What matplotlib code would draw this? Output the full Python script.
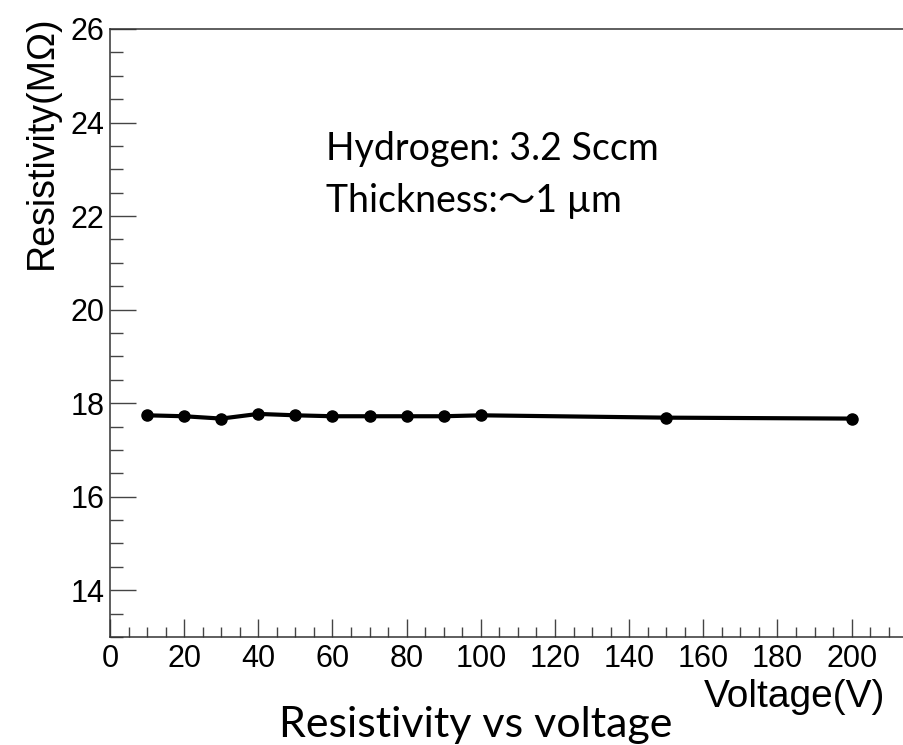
import matplotlib
matplotlib.use("Agg")
import matplotlib.pyplot as plt
from matplotlib.ticker import MultipleLocator

# data
voltage = [10, 20, 30, 40, 50, 60, 70, 80, 90, 100, 150, 200]
resistivity = [17.74, 17.72, 17.67, 17.77, 17.74, 17.72, 17.72, 17.72, 17.72, 17.74, 17.69, 17.67]

x_major = 20
x_minor = 5
y_major = 2
y_minor = 0.5

W, H = 904, 745
DPI = 100

plt.rcParams["font.family"] = ["Liberation Sans", "DejaVu Sans"]

fig = plt.figure(figsize=(W / DPI, H / DPI), dpi=DPI)

# axes box in pixels: left spine 110, bottom 637, top 29, right runs past the edge
left, right, top, bottom = 110, 911, 29, 637
ax = fig.add_axes([left / W, 1 - bottom / H, (right - left) / W, (bottom - top) / H])

ax.plot(voltage, resistivity, color="black", lw=3, marker="o", ms=8,
        markerfacecolor="black", markeredgecolor="black", solid_joinstyle="miter")

ax.set_xlim(0, 216)
ax.set_ylim(13, 26)

ax.xaxis.set_major_locator(MultipleLocator(x_major))
ax.xaxis.set_minor_locator(MultipleLocator(x_minor))
ax.yaxis.set_major_locator(MultipleLocator(y_major))
ax.yaxis.set_minor_locator(MultipleLocator(y_minor))

for s in ax.spines.values():
    s.set_linewidth(1.1)
    s.set_color("#333333")

ax.tick_params(axis="x", which="major", direction="in", length=13, width=1.0,
               color="#444444", labelsize=22, pad=5)
ax.tick_params(axis="x", which="minor", direction="in", length=7, width=1.0,
               color="#444444")
ax.tick_params(axis="y", which="major", direction="in", length=18.5, width=1.0,
               color="#444444", labelsize=22, pad=4)
ax.tick_params(axis="y", which="minor", direction="in", length=9.5, width=1.0,
               color="#444444")
ax.tick_params(top=False, right=False, which="both")

# axis titles, ROOT style: at the far ends of the axes
fig.text(885 / W, 1 - 707 / H, "Voltage(V)", ha="right", va="baseline", fontsize=28)
fig.text(42 / W, 1 - 142 / H, "Resistivity(M\u03a9)", ha="center", va="center",
         rotation=90, fontsize=27)

# annotation
note_font = ["Lato", "Noto Sans CJK SC", "DejaVu Sans"]
fig.text(326 / W, 1 - 160 / H, "Hydrogen: 3.2 Sccm", ha="left", va="baseline",
         fontsize=27, family=note_font)
fig.text(326 / W, 1 - 212 / H, "Thickness:\u301c1 \u00b5m", ha="left", va="baseline",
         fontsize=27, family=note_font)

# caption under the plot
fig.text(476 / W, 1 - 737 / H, "Resistivity vs voltage", ha="center", va="baseline",
         fontsize=31, family=note_font)

fig.savefig("out.png", dpi=DPI)
